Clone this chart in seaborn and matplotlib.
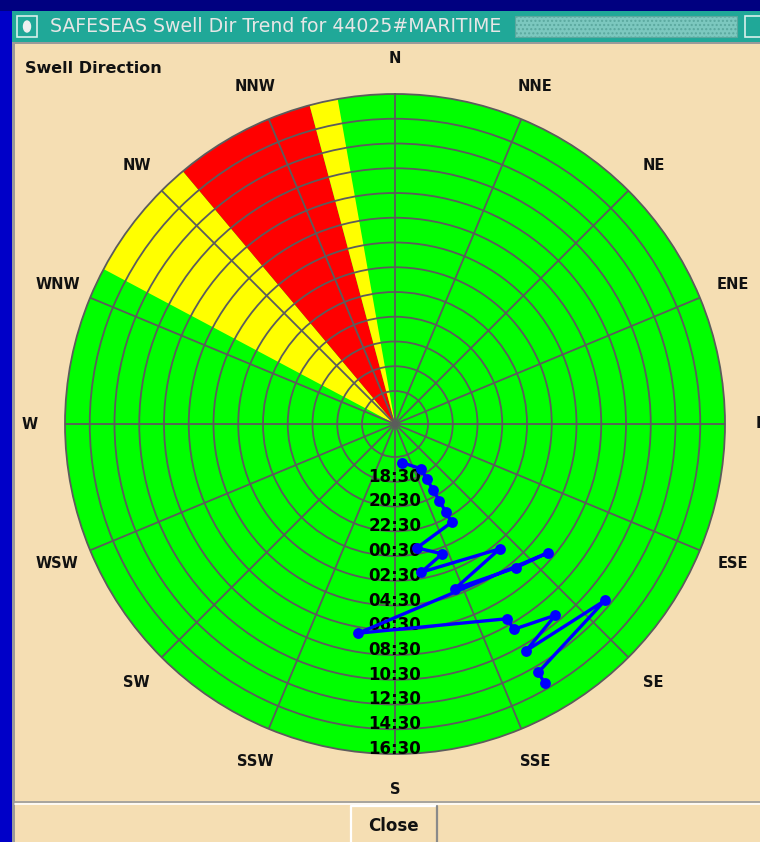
import matplotlib
matplotlib.use("Agg")
import matplotlib.pyplot as plt
from matplotlib.patches import Rectangle, Ellipse
from matplotlib.lines import Line2D
import numpy as np
import pandas as pd
import seaborn as sns

W, H = 760, 842

COMPASS = ["N", "NNE", "NE", "ENE", "E", "ESE", "SE", "SSE",
           "S", "SSW", "SW", "WSW", "W", "WNW", "NW", "NNW"]
RING_LABELS = ["18:30", "20:30", "22:30", "00:30", "02:30", "04:30",
               "06:30", "08:30", "10:30", "12:30", "14:30", "16:30"]

# hourly swell direction observations (deg true)
OBS_TIMES = ["17:00", "18:00", "19:00", "20:00", "21:00", "22:00", "23:00",
             "00:00", "01:00", "02:00", "03:00", "04:00", "05:00", "06:00",
             "07:00", "08:00", "09:00", "10:00", "11:00", "12:00", "13:00", "14:00"]
OBS_DIR = [170, 150, 150, 150, 150, 150, 150, 170, 160, 170, 140,
           160, 140, 130, 190, 150, 150, 140, 150, 130, 150, 150]

# threshold sectors (deg)
SECTOR_FROM = [298, 320, 345]
SECTOR_TO = [320, 345, 350]
SECTOR_COLORS = ["#ffff00", "#ff0000", "#ffff00"]

START_HOUR = 16.5          # innermost ring = 16:30
R_OFFSET = 8.0 / 3.0       # empty hub in the middle (hours)
R_MAX = R_OFFSET + 24


def hours_since_start(labels):
    h = np.array([int(t[:2]) + int(t[3:]) / 60 for t in labels])
    return (h - START_HOUR) % 24


def fig_rect(fig, x0, y0, x1, y1, zorder=-2, **kw):
    fig.add_artist(Rectangle((x0 / W, 1 - y1 / H), (x1 - x0) / W, (y1 - y0) / H,
                             transform=fig.transFigure, zorder=zorder, **kw))


def fig_line(fig, xs, ys, zorder=-1, **kw):
    fig.add_artist(Line2D([x / W for x in xs], [1 - y / H for y in ys],
                          transform=fig.transFigure, zorder=zorder, **kw))


sns.set_style("white")
plt.rcParams["font.family"] = ["DejaVu Sans"]

fig = plt.figure(figsize=(W / 100, H / 100), dpi=100, facecolor="#0000c8")

# window frame
fig_rect(fig, 0, 0, W, 11, color="#000080", lw=0)
fig_rect(fig, 12, 11, W, 42, color="#20a898", lw=0)
fig_rect(fig, 17, 16, 37, 37, facecolor="#20a898", edgecolor="#d8f0ec", lw=1.2, zorder=-1)
fig.add_artist(Ellipse((27 / W, 1 - 26.5 / H), 7 / W, 11 / H,
                       transform=fig.transFigure, color="#f0f0f0", zorder=-1))
fig.text(50 / W, 1 - 26.5 / H, "SAFESEAS Swell Dir Trend for 44025#MARITIME",
         color="#e6e6e6", fontsize=13.6, va="center", ha="left")
fig_rect(fig, 515, 16, 737, 37, facecolor="#7cc8bf", edgecolor="#5aa89e",
         hatch="....", lw=0.8, zorder=-1)
fig_rect(fig, 745, 16, 762, 37, facecolor="#20a898", edgecolor="#d8f0ec", lw=1.2, zorder=-1)

# panel
fig_rect(fig, 12, 42, W, H, color="#9a9a9a", lw=0)
fig_rect(fig, 15, 44, W, H, color="#f5deb3", lw=0)
fig.text(25 / W, 1 - 73 / H, "Swell Direction", fontsize=11.5,
         fontweight="bold", va="baseline", ha="left", color="#111111")

# separator and close button
fig_line(fig, [15, W], [802, 802], color="#9a9a9a", lw=1.2)
fig_line(fig, [15, W], [804, 804], color="#ffffff", lw=1.2)
fig_rect(fig, 351, 806, 437, 845, facecolor="#f5deb3", edgecolor="none", zorder=-1)
fig_line(fig, [351, 351, 437], [845, 806, 806], color="#ffffff", lw=1.6)
fig_line(fig, [437, 437], [806, 845], color="#8a8a8a", lw=1.6)
fig.text(393 / W, 1 - 826 / H, "Close", fontsize=12, fontweight="bold",
         ha="center", va="center", color="#111111")

# polar chart: centre (395, 424), radius 330 px
ax = fig.add_axes([65 / W, (H - 424 - 330) / H, 660 / W, 660 / H], projection="polar")
ax.set_theta_zero_location("N")
ax.set_theta_direction(-1)
ax.set_facecolor("#00ff00")
ax.set_ylim(0, R_MAX)

for a0, a1, c in zip(SECTOR_FROM, SECTOR_TO, SECTOR_COLORS):
    ax.bar(np.deg2rad((a0 + a1) / 2), R_MAX, width=np.deg2rad(a1 - a0), bottom=0,
           color=c, edgecolor="none", zorder=1)

ax.set_axisbelow(False)
ax.set_xticks(np.deg2rad(np.arange(0, 360, 22.5)))
ax.set_xticklabels(COMPASS, fontsize=10.5, fontweight="bold", color="#111111")
ax.tick_params(axis="x", length=0, pad=18.5)
ax.set_yticks(R_OFFSET + np.arange(0, 24, 2))
ax.set_yticklabels([])
ax.grid(True, color="#5c5c5c", lw=1.3)
ax.spines["polar"].set_color("#5c5c5c")
ax.spines["polar"].set_linewidth(1.3)

ring_r = hours_since_start(RING_LABELS)
ring_r = np.where(ring_r == 0, 24, ring_r) + R_OFFSET
for lab, r in zip(RING_LABELS, ring_r):
    ax.text(np.pi, r, lab, ha="center", va="baseline", fontsize=12,
            fontweight="bold", color="#000000", zorder=4)

df = pd.DataFrame({
    "theta": np.deg2rad(OBS_DIR),
    "r": hours_since_start(OBS_TIMES) + R_OFFSET,
})
sns.lineplot(data=df, x="theta", y="r", sort=False, estimator=None, ax=ax,
             color="#0000ff", lw=2.4, marker="o", markersize=7.8,
             markeredgewidth=0, zorder=5)
ax.set_xlabel("")
ax.set_ylabel("")
ax.set_ylim(0, R_MAX)

fig.savefig("out.png", dpi=100, facecolor=fig.get_facecolor())
